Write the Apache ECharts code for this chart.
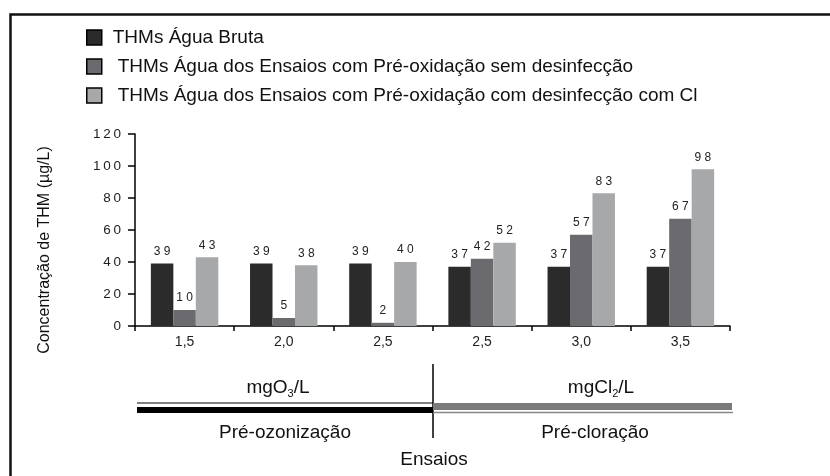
<!DOCTYPE html>
<html>
<head>
<meta charset="utf-8">
<script src="https://cdn.jsdelivr.net/npm/echarts@6/dist/echarts.min.js"></script>
<style>
  html, body { margin: 0; padding: 0; background: #fff; }
  #chart { width: 830px; height: 476px; }
</style>
</head>
<body>
<div id="chart"></div>
<script>
// dados
const categorias = ['1,5', '2,0', '2,5', '2,5', '3,0', '3,5'];
const seriesNomes = [
  'THMs Água Bruta',
  'THMs Água dos Ensaios com Pré-oxidação sem desinfecção',
  'THMs Água dos Ensaios com Pré-oxidação com desinfecção com Cl'
];
const aguaBruta = [39, 39, 39, 37, 37, 37];
const semDesinfeccao = [10, 5, 2, 42, 57, 67];
const comDesinfeccao = [43, 38, 40, 52, 83, 98];
const yTicks = [0, 20, 40, 60, 80, 100, 120];
const cores = ['#2b2b2b', '#6b6b6f', '#a7a8aa'];

const espaco = s => String(s).split('').join(' ');
const fonte = 'Arial, Liberation Sans';

let myChart = echarts.init(document.getElementById('chart'));

function barra(nome, dados, cor) {
  return {
    name: nome,
    type: 'bar',
    data: dados,
    barGap: '0%',
    barCategoryGap: '32%',
    itemStyle: { color: cor },
    label: {
      show: true,
      position: 'top',
      distance: 6,
      fontSize: 12,
      fontFamily: fonte,
      color: '#222',
      formatter: p => espaco(p.value)
    }
  };
}

myChart.setOption({
  animation: false,
  textStyle: { fontFamily: fonte },
  legend: {
    orient: 'vertical',
    left: 81,
    top: 23,
    itemWidth: 15,
    itemHeight: 15,
    itemGap: 10,
    icon: 'rect',
    data: seriesNomes.map((n, i) => ({
      name: n,
      itemStyle: { color: cores[i], borderColor: '#000', borderWidth: 1.5 }
    })),
    formatter: n => n === seriesNomes[0] ? '{a|' + n + '}' : '{b|' + n + '}',
    textStyle: {
      fontSize: 19,
      lineHeight: 19,
      color: '#111',
      rich: {
        a: { fontSize: 19, lineHeight: 19, color: '#111', padding: [0, 0, 0, 6] },
        b: { fontSize: 19, lineHeight: 19, color: '#111', padding: [0, 0, 0, 11] }
      }
    }
  },
  grid: { left: 135, right: 100, top: 134, bottom: 150 },
  xAxis: {
    type: 'category',
    data: categorias,
    axisLine: { lineStyle: { color: '#000', width: 1.5 } },
    axisTick: { show: true, length: 5, lineStyle: { color: '#000', width: 1.5 } },
    axisLabel: { fontSize: 14, color: '#222', margin: 9 }
  },
  yAxis: {
    type: 'value',
    min: 0,
    max: 120,
    interval: 20,
    name: 'Concentração de THM (µg/L)',
    nameLocation: 'middle',
    nameGap: 82,
    nameTextStyle: { fontSize: 16, color: '#111', padding: [0, 40, 0, 0] },
    axisLine: { show: true, lineStyle: { color: '#000', width: 1.5 } },
    axisTick: { show: true, length: 7, lineStyle: { color: '#000', width: 1.5 } },
    axisLabel: {
      fontSize: 13.5,
      color: '#222',
      margin: 14,
      formatter: v => yTicks.includes(v) ? String(v).split('').join('\u2009') : ''
    },
    splitLine: { show: false }
  },
  series: [
    barra(seriesNomes[0], aguaBruta, cores[0]),
    barra(seriesNomes[1], semDesinfeccao, cores[1]),
    barra(seriesNomes[2], comDesinfeccao, cores[2])
  ],
  graphic: [
    // moldura
    { type: 'rect', left: 8, top: 12, shape: { width: 900, height: 600 },
      style: { fill: 'none', stroke: '#111', lineWidth: 2.5 }, silent: true },
    // divisória vertical
    { type: 'line', shape: { x1: 433, y1: 364, x2: 433, y2: 438 },
      style: { stroke: '#000', lineWidth: 1.5 } },
    // pré-ozonização: linha fina + barra preta
    { type: 'line', shape: { x1: 137, y1: 403, x2: 433, y2: 403 },
      style: { stroke: '#000', lineWidth: 1.2 } },
    { type: 'rect', shape: { x: 137, y: 407, width: 296, height: 6 },
      style: { fill: '#000' } },
    // pré-cloração: barra cinza + linha fina
    { type: 'rect', shape: { x: 433, y: 403, width: 299, height: 7 },
      style: { fill: '#7b7b7b' } },
    { type: 'line', shape: { x1: 433, y1: 412.5, x2: 733, y2: 412.5 },
      style: { stroke: '#888', lineWidth: 1.5 } },
    // textos
    { type: 'text', x: 278, y: 388, style: {
      text: 'mgO{s|3}/L', fill: '#111', font: '19px ' + fonte,
      align: 'center', verticalAlign: 'middle',
      rich: { s: { fontSize: 11, padding: [12, 0, 0, 0], fill: '#111' } } } },
    { type: 'text', x: 601, y: 388, style: {
      text: 'mgCl{s|2}/L', fill: '#111', font: '19px ' + fonte,
      align: 'center', verticalAlign: 'middle',
      rich: { s: { fontSize: 11, padding: [12, 0, 0, 0], fill: '#111' } } } },
    { type: 'text', x: 285, y: 433, style: {
      text: 'Pré-ozonização', fill: '#111', font: '19px ' + fonte,
      align: 'center', verticalAlign: 'middle' } },
    { type: 'text', x: 595, y: 433, style: {
      text: 'Pré-cloração', fill: '#111', font: '19px ' + fonte,
      align: 'center', verticalAlign: 'middle' } },
    { type: 'text', x: 434, y: 460, style: {
      text: 'Ensaios', fill: '#111', font: '19px ' + fonte,
      align: 'center', verticalAlign: 'middle' } }
  ]
});
</script>
</body>
</html>
